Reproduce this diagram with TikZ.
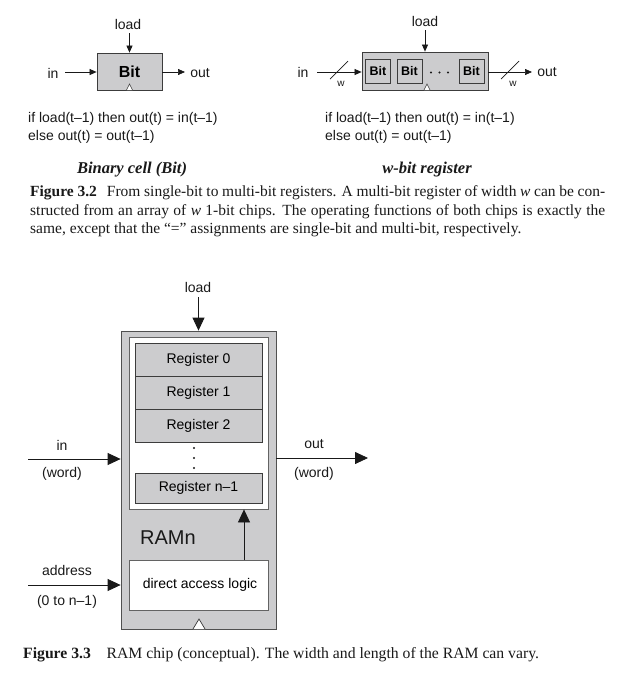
\documentclass[tikz,border=0pt]{standalone}
\usepackage{fontspec}
\setmainfont{Liberation Serif}
\newfontfamily\sansf{Liberation Sans}
\usetikzlibrary{arrows.meta}
\definecolor{chipgray}{RGB}{204,204,206}
\definecolor{edge}{RGB}{60,60,60}
\definecolor{ink}{RGB}{25,25,25}
\begin{document}
\begin{tikzpicture}[x=1pt,y=-1pt,
  lbl/.style={font=\sansf\fontsize{14}{15}\selectfont, text=ink, inner sep=0pt},
  chip/.style={draw=edge, fill=chipgray, line width=0.8pt, inner sep=0pt},
  wbox/.style={draw=edge!80, fill=white, line width=0.8pt, inner sep=0pt},
  sarr/.style={draw=ink, line width=0.7pt, -{Triangle[length=7pt,width=6pt]}},
  barr/.style={draw=ink, line width=0.8pt, -{Triangle[length=13pt,width=12pt]}},
  clk/.style={draw=edge, fill=white, line width=0.6pt},
  captxt/.style={font=\fontsize{15.5}{18}\selectfont, text=ink, inner sep=0pt, anchor=west},
  ttl/.style={font=\fontsize{16.5}{18}\selectfont\bfseries\itshape, text=ink, inner sep=0pt}
]
\useasboundingbox (0,0) rectangle (638,686);

% ---------- Binary cell ----------
\node[chip, minimum width=65pt, minimum height=37pt,
      font=\sansf\bfseries\fontsize{16}{18}\selectfont] (bit) at (129.5,71.5) {Bit};
\draw[clk] (126.5,90) -- (129.5,84) -- (132.5,90);
\node[lbl] (loadA) at (128,24) {load};
\coordinate (loadAs) at (129.5,33);
\draw[sarr] (loadAs) -- (bit.north);
\node[lbl] (inA) at (53,73) {in};
\coordinate (inAs) at (65,72);
\draw[sarr] (inAs) -- (inAs -| bit.west);
\coordinate (outAe) at (185,72);
\draw[sarr] (outAe -| bit.east) -- (outAe);
\node[lbl] (outA) at (200,73) {out};
\node[lbl, anchor=west] (fa1) at (28,119) {if load(t–1) then out(t) = in(t–1)};
\node[lbl, anchor=west] (fa2) at (28,137) {else out(t) = out(t–1)};
\node[ttl] (ta) at (132,170) {Binary cell (Bit)};

% ---------- w-bit register ----------
\node[chip, minimum width=126pt, minimum height=38pt] (reg) at (425,71) {};
\tikzset{bitb/.style={chip, minimum width=25pt, minimum height=24pt,
  font=\sansf\bfseries\fontsize{12.5}{14}\selectfont}}
\node[bitb] (b1) at (378,71) {Bit};
\node[bitb] (b2) at (409.5,71) {Bit};
\node[bitb] (b3) at (471.5,71) {Bit};
\fill[ink] (431,72.5) circle (1.1pt) (439.5,72.5) circle (1.1pt) (448,72.5) circle (1.1pt);
\draw[clk] (424,90) -- (427,84) -- (430,90);
\node[lbl] (loadR) at (425,21) {load};
\coordinate (loadRs) at (425,30);
\draw[sarr] (loadRs) -- (loadRs |- reg.north);
\node[lbl] (inR) at (303,72) {in};
\coordinate (inRs) at (317,72);
\draw[sarr] (inRs) -- (inRs -| reg.west);
\coordinate (outRe) at (532,72);
\draw[sarr] (outRe -| reg.east) -- (outRe);
\node[lbl] (outR) at (547,72) {out};
\draw[ink, line width=0.7pt] (330,79) -- (348,61);
\draw[ink, line width=0.7pt] (501,79) -- (519,61);
\node[lbl, font=\sansf\fontsize{10}{12}\selectfont] (w1) at (341,84) {w};
\node[lbl, font=\sansf\fontsize{10}{12}\selectfont] (w2) at (513,84) {w};
\node[lbl, anchor=west] (fr1) at (325,119) {if load(t–1) then out(t) = in(t–1)};
\node[lbl, anchor=west] (fr2) at (325,137) {else out(t) = out(t–1)};
\node[ttl] (tr) at (427,170) {w-bit register};

% ---------- caption 3.2 ----------
\node[captxt] (c1) at (30,193) {\makebox[575pt][s]{\textbf{Figure 3.2}\hspace{0.65em}From single-bit to multi-bit registers. A multi-bit register of width \textit{w} can be con-}};
\node[captxt] (c2) at (30,212) {\makebox[575pt][s]{structed from an array of \textit{w} 1-bit chips. The operating functions of both chips is exactly the}};
\node[captxt] (c3) at (30,230) {same, except that the “=” assignments are single-bit and multi-bit, respectively.};

% ---------- RAM ----------
\node[chip, draw=edge!90, minimum width=155pt, minimum height=298pt] (ram) at (198.5,480) {};
\node[wbox, minimum width=139pt, minimum height=172pt] (mem) at (198.5,423) {};
\tikzset{regb/.style={chip, minimum width=127pt, font=\sansf\fontsize{14}{15}\selectfont}}
\node[regb, minimum height=33pt] (r0) at (198.5,359.5) {Register 0};
\node[regb, minimum height=33pt] (r1) at (198.5,392.5) {Register 1};
\node[regb, minimum height=33pt] (r2) at (198.5,425.5) {Register 2};
\node[regb, minimum height=30pt] (rn) at (198.5,488) {Register n–1};
\fill[ink] (194,448) circle (1.1pt) (194,458) circle (1.1pt) (194,468) circle (1.1pt);
\node[wbox, minimum width=139pt, minimum height=50pt, font=\sansf\fontsize{14}{15}\selectfont] (dal) at (198.5,585) {\hspace{3pt}direct access logic};
\node[lbl, font=\sansf\fontsize{20}{22}\selectfont, anchor=west] (ramn) at (140,538) {RAMn};
\coordinate (dalup) at (244,560);
\draw[barr] (dalup) -- (dalup |- mem.south);
\draw[clk, line width=0.7pt] (193,629) -- (199,619) -- (205,629);

\node[lbl] (loadB) at (198,287) {load};
\coordinate (loadBs) at (198.5,297);
\draw[barr] (loadBs) -- (ram.north);
\node[lbl] (inB) at (62,445) {in};
\node[lbl] (inBw) at (62,474) {(word)};
\coordinate (inBs) at (28,459);
\draw[barr] (inBs) -- (inBs -| ram.west);
\node[lbl] (outB) at (314,444) {out};
\node[lbl] (outBw) at (314,474) {(word)};
\coordinate (outBe) at (368,458);
\draw[barr] (outBe -| ram.east) -- (outBe);
\node[lbl] (adB) at (67,570) {address};
\node[lbl] (adBr) at (67,602) {(0 to n–1)};
\coordinate (adBs) at (28,585);
\draw[barr] (adBs) -- (adBs -| ram.west);

% ---------- caption 3.3 ----------
\node[captxt, font=\fontsize{15.7}{18}\selectfont] (c4) at (23,655) {\textbf{Figure 3.3}\hspace{1em}RAM chip (conceptual). The width and length of the RAM can vary.};
\end{tikzpicture}
\end{document}
